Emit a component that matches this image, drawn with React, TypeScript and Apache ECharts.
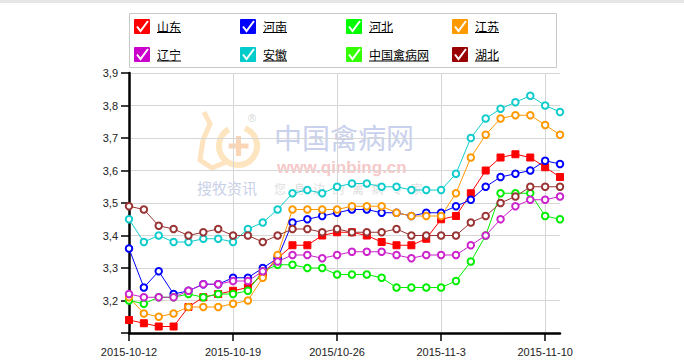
import React, { useEffect, useRef } from "react";
import * as echarts from "echarts";

const categories = [
  "2015-10-12", "2015-10-13", "2015-10-14", "2015-10-15", "2015-10-16", "2015-10-17", "2015-10-18",
  "2015-10-19", "2015-10-20", "2015-10-21", "2015-10-22", "2015-10-23", "2015-10-24", "2015-10-25",
  "2015/10-26", "2015-10-27", "2015-10-28", "2015-10-29", "2015-10-30", "2015-10-31", "2015-11-2",
  "2015-11-3", "2015-11-4", "2015-11-5", "2015-11-6", "2015-11-7", "2015-11-8", "2015-11-9",
  "2015-11-10", "2015-11-11",
];
const labelIndices = [0, 7, 14, 21, 28];

const yTicks = [3.1, 3.2, 3.3, 3.4, 3.5, 3.6, 3.7, 3.8, 3.9];

const seriesNames = ["山东", "河南", "河北", "江苏", "辽宁", "安徽", "中国禽病网", "湖北"];
const seriesColors = ["#ff0000", "#0000ff", "#00ee00", "#ff9900", "#cc22cc", "#11cccc", "#33ff00", "#993333"];
const legendColors = ["#ff0000", "#0000ff", "#00ff00", "#ff9900", "#cc00cc", "#00cccc", "#33ff00", "#990000"];

const shandong = [3.14, 3.13, 3.12, 3.12, 3.18, 3.21, 3.22, 3.23, 3.24, 3.28, 3.33, 3.37, 3.37, 3.40, 3.41, 3.41, 3.40, 3.38, 3.37, 3.37, 3.39, 3.45, 3.46, 3.53, 3.60, 3.64, 3.65, 3.64, 3.61, 3.58];
const henan = [3.36, 3.24, 3.29, 3.22, 3.23, 3.25, 3.25, 3.27, 3.27, 3.30, 3.33, 3.44, 3.45, 3.46, 3.47, 3.48, 3.48, 3.47, 3.47, 3.46, 3.47, 3.47, 3.49, 3.51, 3.55, 3.58, 3.59, 3.60, 3.63, 3.62];
const hebei = [3.20, 3.19, 3.21, 3.21, 3.22, 3.21, 3.22, 3.22, 3.23, 3.29, 3.31, 3.31, 3.30, 3.30, 3.28, 3.28, 3.28, 3.27, 3.24, 3.24, 3.24, 3.24, 3.26, 3.32, 3.40, 3.53, 3.53, 3.53, 3.46, 3.45];
const jiangsu = [3.21, 3.16, 3.15, 3.16, 3.18, 3.18, 3.18, 3.19, 3.20, 3.27, 3.34, 3.48, 3.48, 3.48, 3.48, 3.49, 3.49, 3.49, 3.47, 3.46, 3.46, 3.46, 3.53, 3.64, 3.71, 3.76, 3.77, 3.77, 3.74, 3.71];
const liaoning = [3.22, 3.21, 3.21, 3.21, 3.23, 3.25, 3.25, 3.26, 3.26, 3.29, 3.32, 3.34, 3.34, 3.33, 3.34, 3.35, 3.35, 3.35, 3.34, 3.33, 3.34, 3.34, 3.34, 3.37, 3.40, 3.45, 3.49, 3.51, 3.51, 3.52];
const anhui = [3.45, 3.38, 3.40, 3.38, 3.38, 3.39, 3.39, 3.38, 3.42, 3.44, 3.48, 3.53, 3.54, 3.53, 3.55, 3.56, 3.56, 3.55, 3.55, 3.54, 3.54, 3.54, 3.59, 3.70, 3.76, 3.79, 3.81, 3.83, 3.80, 3.78];
const zhongguo: number[] = [];
const hubei = [3.49, 3.48, 3.43, 3.42, 3.40, 3.41, 3.42, 3.40, 3.40, 3.38, 3.40, 3.42, 3.42, 3.41, 3.42, 3.41, 3.41, 3.41, 3.42, 3.40, 3.40, 3.40, 3.40, 3.44, 3.46, 3.50, 3.52, 3.55, 3.55, 3.55];

const seriesData = [shandong, henan, hebei, jiangsu, liaoning, anhui, zhongguo, hubei];

const CJK = '"Noto Sans CJK SC", sans-serif';

function buildGraphic() {
  const els: any[] = [];
  els.push({ type: "rect", z: 0, shape: { x: 0, y: 0, width: 684, height: 3 }, style: { fill: "#e6e6e6" } });
  // legend box
  els.push({
    type: "rect", z: 10,
    shape: { x: 129.5, y: 13.5, width: 427, height: 54 },
    style: { fill: "#fff", stroke: "#c8c8c8", lineWidth: 1 },
  });
  seriesNames.forEach((name, k) => {
    const row = Math.floor(k / 4);
    const col = k % 4;
    const sx = 134 + col * 106;
    const sy = 19 + row * 28;
    els.push({ type: "rect", z: 11, shape: { x: sx, y: sy, width: 16, height: 15, r: 1 }, style: { fill: legendColors[k] } });
    els.push({
      type: "polyline", z: 12,
      shape: { points: [[sx + 3, sy + 7.5], [sx + 6.5, sy + 12], [sx + 14, sy + 2]] },
      style: { stroke: "#fff", lineWidth: 2, fill: null },
    });
    const tx = 157 + col * 106;
    const ty = 26 + row * 28.5;
    els.push({
      type: "text", z: 12, x: tx, y: ty,
      style: { text: name, fill: "#000", font: `12px ${CJK}`, verticalAlign: "middle", align: "left" },
    });
    els.push({
      type: "line", z: 12,
      shape: { x1: tx, y1: ty + 6.5, x2: tx + 12 * name.length, y2: ty + 6.5 },
      style: { stroke: "#000", lineWidth: 1 },
    });
  });
  // watermark
  els.push({ type: "arc", z: 0, shape: { cx: 238, cy: 146, r: 19, startAngle: -1.2, endAngle: 4.2 }, style: { stroke: "#fde6bf", lineWidth: 6, fill: null } });
  els.push({ type: "rect", z: 0, shape: { x: 236, y: 136, width: 5, height: 20 }, style: { fill: "#fbd6b6" } });
  els.push({ type: "rect", z: 0, shape: { x: 228.5, y: 143.5, width: 20, height: 5 }, style: { fill: "#fbd6b6" } });
  els.push({ type: "polyline", z: 0, shape: { points: [[204, 112], [210, 124], [203, 140], [200, 160], [212, 168], [226, 162]] }, style: { stroke: "#fde3bf", lineWidth: 5, fill: null } });
  els.push({ type: "text", z: 0, x: 248, y: 112, style: { text: "®", fill: "#d8d8d8", font: "11px Arial" } });
  els.push({ type: "text", z: 0, x: 274, y: 137, style: { text: "中国禽病网", fill: "#c9d1ec", font: `28px ${CJK}`, verticalAlign: "middle" } });
  els.push({ type: "text", z: 0, x: 277, y: 167, style: { text: "www.qinbing.cn", fill: "#f6c8c8", font: "bold 17px Arial", verticalAlign: "middle" } });
  els.push({ type: "text", z: 0, x: 197, y: 187, style: { text: "搜牧资讯", fill: "#c9d1e8", font: `15px ${CJK}`, verticalAlign: "middle" } });
  const slogan = "您身边的禽病专家";
  slogan.split("").forEach((ch, k) => {
    els.push({ type: "text", z: 0, x: 274 + k * 19.5, y: 188, style: { text: ch, fill: "#dedede", font: `12px ${CJK}`, verticalAlign: "middle" } });
  });
  return els;
}

export default function App() {
  const ref = useRef<HTMLDivElement>(null);
  useEffect(() => {
    if (!ref.current) return;
    const chart = echarts.init(ref.current, undefined, { renderer: "svg" });
    const showIdx = (i: number) => labelIndices.indexOf(i) >= 0;
    const option: any = {
      animation: false,
      backgroundColor: "#fff",
      grid: { left: 129, right: 124, top: 73, bottom: 29, containLabel: false },
      xAxis: {
        type: "category",
        boundaryGap: false,
        data: categories,
        axisLine: { lineStyle: { color: "#000", width: 2.5 } },
        axisTick: { show: true, interval: (i: number) => showIdx(i), length: 8, lineStyle: { color: "#000", width: 1.5 } },
        axisLabel: { interval: (i: number) => showIdx(i), fontSize: 11, color: "#222", margin: 13, fontFamily: "Arial" },
        splitLine: { show: true, interval: (i: number) => showIdx(i) && i > 0, lineStyle: { color: "#d6d6d6", width: 1 } },
      },
      yAxis: {
        type: "value",
        min: yTicks[0],
        max: yTicks[yTicks.length - 1],
        interval: 0.1,
        axisLine: { show: true, lineStyle: { color: "#000", width: 2.5 } },
        axisTick: { show: true, length: 8, lineStyle: { color: "#000", width: 1.5 } },
        axisLabel: {
          fontSize: 11, color: "#222", margin: 11, fontFamily: "Arial",
          formatter: (v: number) => (Math.abs(v - yTicks[0]) < 1e-6 ? "" : v.toFixed(1).replace(".", ",")),
        },
        splitLine: { show: true, lineStyle: { color: "#d6d6d6", width: 1 } },
      },
      series: seriesNames.map((name, k) => ({
        name,
        type: "line",
        data: seriesData[k],
        symbol: k === 0 ? "rect" : "emptyCircle",
        symbolSize: k === 0 ? 7 : 6.5,
        showAllSymbol: true,
        lineStyle: { color: seriesColors[k], width: 1 },
        itemStyle: { color: seriesColors[k], borderColor: seriesColors[k], borderWidth: 1 },
        z: 3,
      })),
      graphic: { elements: buildGraphic() },
    };
    chart.setOption(option);
    return () => chart.dispose();
  }, []);
  return <div ref={ref} style={{ position: "fixed", left: 0, top: 0, width: 684, height: 362 }} />;
}
